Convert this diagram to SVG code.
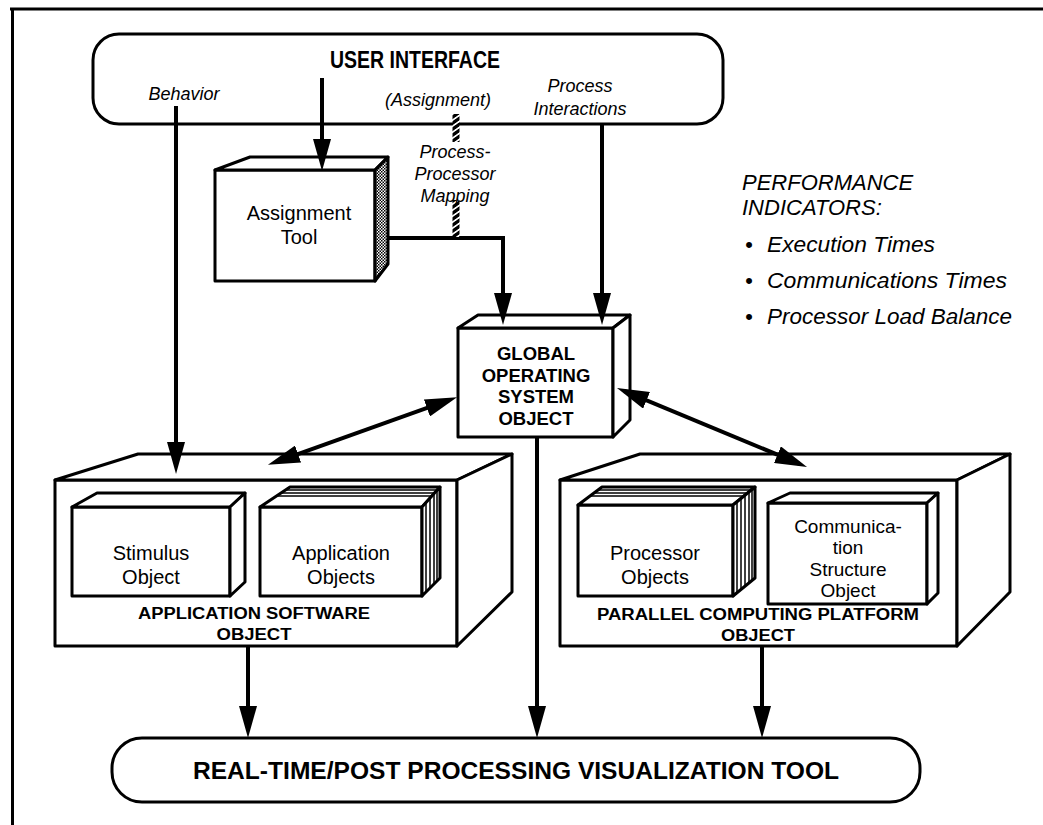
<svg xmlns="http://www.w3.org/2000/svg" width="1043" height="825" viewBox="0 0 1043 825">
  <style>
    .ln { fill: none; stroke: #000; stroke-width: 3; stroke-linejoin: round; }
    .bx { fill: #fff; stroke: #000; stroke-width: 3; stroke-linejoin: round; }
    .thin { fill: none; stroke: #000; stroke-width: 1.5; }
    .cn { fill: none; stroke: #000; stroke-width: 4; }
    .t { font-family: "Liberation Sans", Arial, sans-serif; fill: #000; text-anchor: middle; }
    .b { font-weight: bold; }
    .i { font-style: italic; }
  </style>
  <defs>
    <marker id="ah" viewBox="0 0 32 18" refX="24" refY="9" markerWidth="32" markerHeight="18" markerUnits="userSpaceOnUse" orient="auto-start-reverse">
      <path d="M0,0 L32,9 L0,18 z" fill="#000"/>
    </marker>
    <pattern id="stip" width="3" height="3" patternUnits="userSpaceOnUse">
      <rect width="3" height="3" fill="#fff"/>
      <rect width="1.5" height="1.5" fill="#000"/>
      <rect x="1.5" y="1.5" width="1.5" height="1.5" fill="#000"/>
    </pattern>
    <pattern id="hatch" width="8" height="6" patternUnits="userSpaceOnUse" patternTransform="skewY(-35)">
      <rect width="8" height="6" fill="#fff"/>
      <rect width="8" height="4" fill="#000"/>
    </pattern>
  </defs>

  <!-- page frame -->
  <path d="M10 9 H1043 M12.5 9 V825" class="ln" stroke-width="4"/>

  <g id="user-interface">
    <rect x="93" y="34" width="630" height="90" rx="26" class="bx"/>
    <text x="415" y="68" class="t b" font-size="23" textLength="170" lengthAdjust="spacingAndGlyphs">USER INTERFACE</text>
  </g>

  <g id="assignment-tool">
    <rect x="215" y="170" width="160" height="111" class="bx"/>
    <polygon points="215,170 250,157 388,157 375,170" class="bx"/>
    <polygon points="375,170 388,157 388,264 375,281" fill="url(#stip)" stroke="#000" stroke-width="3" stroke-linejoin="round"/>
    <text x="299" y="220" class="t" font-size="20">Assignment</text>
    <text x="299" y="244" class="t" font-size="20">Tool</text>
  </g>

  <g id="global-os">
    <rect x="458" y="328" width="155" height="109" class="bx"/>
    <polygon points="458,328 478,315 630,315 613,328" class="bx"/>
    <polygon points="613,328 630,315 630,420 613,437" class="bx"/>
    <text x="536" y="360" class="t b" font-size="18.5">GLOBAL</text>
    <text x="536" y="382" class="t b" font-size="18.5">OPERATING</text>
    <text x="536" y="403" class="t b" font-size="18.5">SYSTEM</text>
    <text x="536" y="425" class="t b" font-size="18.5">OBJECT</text>
  </g>

  <g id="application-software">
    <rect x="55" y="480" width="402" height="166" class="bx"/>
    <polygon points="55,480 138,454 512,454 457,480" class="bx"/>
    <polygon points="457,480 512,454 512,592 457,646" class="bx"/>
    <text x="254" y="619" class="t b" font-size="16" textLength="232" lengthAdjust="spacingAndGlyphs">APPLICATION SOFTWARE</text>
    <text x="254" y="640" class="t b" font-size="16" textLength="75" lengthAdjust="spacingAndGlyphs">OBJECT</text>
  </g>

  <g id="stimulus-object">
    <rect x="72" y="507" width="158" height="89" class="bx"/>
    <polygon points="72,507 97,493 245,493 230,507" class="bx"/>
    <polygon points="230,507 245,493 245,582 230,596" class="bx"/>
    <text x="151" y="560" class="t" font-size="20">Stimulus</text>
    <text x="151" y="584" class="t" font-size="20">Object</text>
  </g>

  <g id="application-objects">
    <rect x="260" y="507" width="162" height="89" class="bx"/>
    <polygon points="260,507 290,487 440,487 422,507" class="bx"/>
    <polygon points="422,507 440,487 440,578 422,596" class="bx"/>
    <path d="M426 502.6 V592 M430 498.1 V588 M434 493.7 V584 M437 490.3 V581 M285.5 490 H437.3 M281 493 H434.6 M276.5 496 H431.9" class="thin"/>
    <text x="341" y="560" class="t" font-size="20">Application</text>
    <text x="341" y="584" class="t" font-size="20">Objects</text>
  </g>

  <g id="parallel-platform">
    <rect x="560" y="480" width="397" height="166" class="bx"/>
    <polygon points="560,480 640,454 1010,454 957,480" class="bx"/>
    <polygon points="957,480 1010,454 1010,592 957,646" class="bx"/>
    <text x="758" y="620" class="t b" font-size="16" textLength="322" lengthAdjust="spacingAndGlyphs">PARALLEL COMPUTING PLATFORM</text>
    <text x="758" y="641" class="t b" font-size="16" textLength="74" lengthAdjust="spacingAndGlyphs">OBJECT</text>
  </g>

  <g id="processor-objects">
    <rect x="578" y="505" width="155" height="91" class="bx"/>
    <polygon points="578,505 602,487 755,487 733,505" class="bx"/>
    <polygon points="733,505 755,487 755,578 733,596" class="bx"/>
    <path d="M737 501.7 V592.7 M741 498.5 V589.5 M745 495.2 V586.2 M749 491.9 V582.9 M752 489.5 V580.5 M598 490 H751.3 M594 493 H747.6 M590 496 H744" class="thin"/>
    <text x="655" y="560" class="t" font-size="20">Processor</text>
    <text x="655" y="584" class="t" font-size="20">Objects</text>
  </g>

  <g id="communication-structure">
    <rect x="768" y="503" width="159" height="101" class="bx"/>
    <polygon points="768,503 790,493 938,493 927,503" class="bx"/>
    <polygon points="927,503 938,493 938,593 927,604" class="bx"/>
    <text x="848" y="533" class="t" font-size="19">Communica-</text>
    <text x="848" y="554" class="t" font-size="19">tion</text>
    <text x="848" y="576" class="t" font-size="19">Structure</text>
    <text x="848" y="597" class="t" font-size="19">Object</text>
  </g>

  <g id="visualization-tool">
    <rect x="112" y="738" width="808" height="64" rx="30" class="bx"/>
    <text x="516" y="779" class="t b" font-size="23" textLength="646" lengthAdjust="spacingAndGlyphs">REAL-TIME/POST PROCESSING VISUALIZATION TOOL</text>
  </g>

  <g id="performance-indicators" class="t i" font-size="22">
    <text x="742" y="190" text-anchor="start">PERFORMANCE</text>
    <text x="742" y="215" text-anchor="start">INDICATORS:</text>
    <text x="745" y="252" text-anchor="start">•</text>
    <text x="767" y="252" text-anchor="start" textLength="168" lengthAdjust="spacingAndGlyphs">Execution Times</text>
    <text x="745" y="288" text-anchor="start">•</text>
    <text x="767" y="288" text-anchor="start" textLength="240" lengthAdjust="spacingAndGlyphs">Communications Times</text>
    <text x="745" y="324" text-anchor="start">•</text>
    <text x="767" y="324" text-anchor="start" textLength="245" lengthAdjust="spacingAndGlyphs">Processor Load Balance</text>
  </g>

  <g id="connectors">
    <!-- behavior to application software -->
    <path d="M176 106 V466" class="cn" marker-end="url(#ah)"/>
    <!-- user interface to assignment tool -->
    <path d="M322 78 V163" class="cn" marker-end="url(#ah)"/>
    <!-- assignment tool mapping to global OS -->
    <path d="M388 238 H503 V317" class="cn" marker-end="url(#ah)"/>
    <!-- process interactions to global OS -->
    <path d="M602 124 V317" class="cn" marker-end="url(#ah)"/>
    <!-- hatched assignment path -->
    <rect x="452.5" y="114" width="7" height="28" fill="url(#hatch)"/>
    <rect x="452.5" y="200" width="7" height="37" fill="url(#hatch)"/>
    <!-- global OS exchanges -->
    <path d="M449.5 399.9 L275.5 462.1" class="cn" marker-start="url(#ah)" marker-end="url(#ah)"/>
    <path d="M624.4 391.1 L799.6 463.9" class="cn" marker-start="url(#ah)" marker-end="url(#ah)"/>
    <!-- outputs to visualization tool -->
    <path d="M248 646 V730" class="cn" marker-end="url(#ah)"/>
    <path d="M537 437 V730" class="cn" marker-end="url(#ah)"/>
    <path d="M762 646 V730" class="cn" marker-end="url(#ah)"/>
    <!-- labels -->
    <text x="184" y="100" class="t i" font-size="18">Behavior</text>
    <text x="438" y="106" class="t i" font-size="18">(Assignment)</text>
    <text x="580" y="92" class="t i" font-size="18">Process</text>
    <text x="580" y="115" class="t i" font-size="18">Interactions</text>
    <text x="455" y="158" class="t i" font-size="18">Process-</text>
    <text x="455" y="180" class="t i" font-size="18">Processor</text>
    <text x="455" y="202" class="t i" font-size="18">Mapping</text>
  </g>
</svg>
